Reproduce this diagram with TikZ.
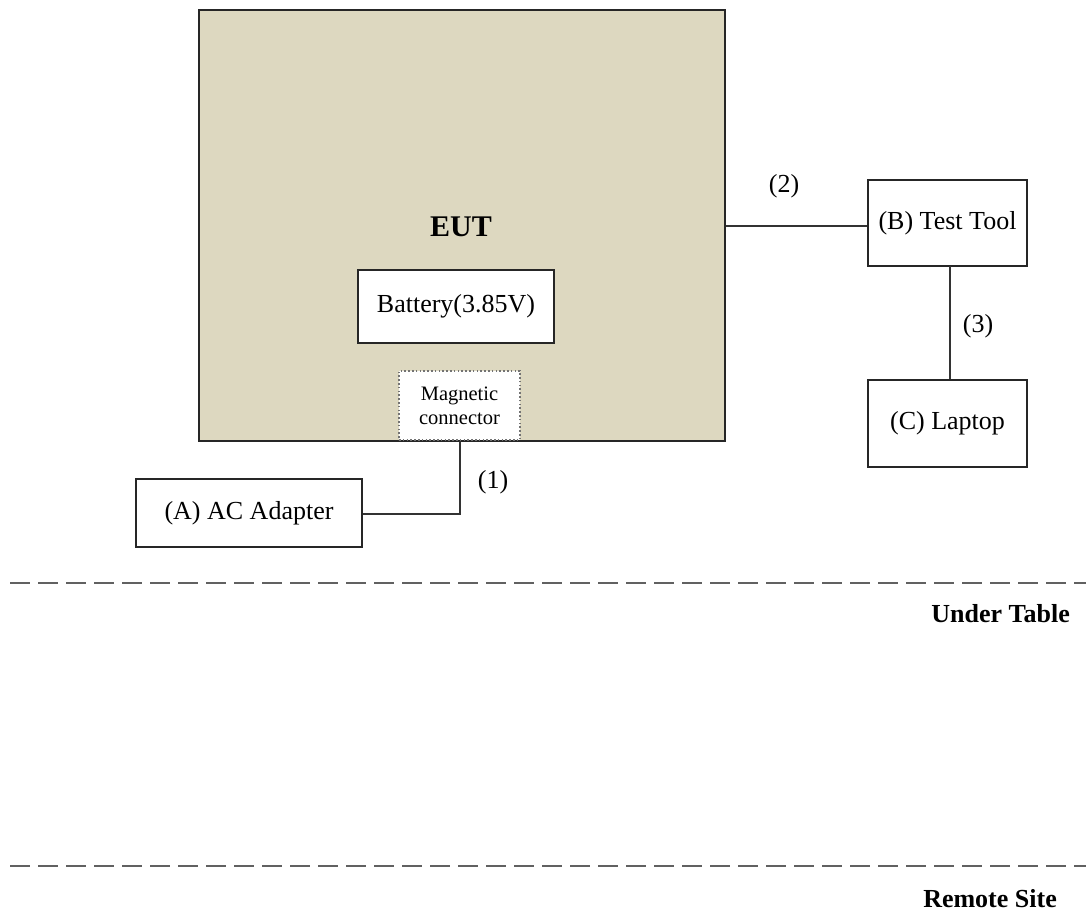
\documentclass[tikz,border=0pt]{standalone}
\usepackage{fontspec}
\setmainfont{Liberation Serif}
\begin{document}
\begin{tikzpicture}[x=1pt,y=-1pt,
  box/.style={draw=black!85,line width=1.4pt,fill=white,inner sep=0pt,
    font=\fontsize{26}{30}\selectfont},
  wire/.style={draw=black!80,line width=1.4pt},
  lbl/.style={font=\fontsize{26}{30}\selectfont,inner sep=0pt},
  zone/.style={draw=black!62,line width=2.6pt,dash pattern=on 20pt off 8pt},
  zonelbl/.style={font=\bfseries\fontsize{26}{30}\selectfont,inner sep=0pt}]
\useasboundingbox (0,0) rectangle (1091,915);

% equipment under test
\node[draw=black!85,line width=1.4pt,fill={rgb,255:red,221;green,216;blue,192},
  minimum width=526pt,minimum height=431pt,inner sep=0pt] (eut) at (462,225.5) {};
\node[font=\bfseries\fontsize{30}{34}\selectfont,inner sep=0pt] (eutlbl) at (461,227) {EUT};
\node[box,minimum width=196pt,minimum height=73pt] (bat) at (456,306.5) {Battery(3.85V)};
\node[draw=black!55,line width=1.6pt,dash pattern=on 1.6pt off 2.2pt,fill=white,
  minimum width=121pt,minimum height=69pt,
  inner sep=0pt,align=center,font=\fontsize{20.5}{24}\selectfont] (mag) at (459.5,405.5)
  {Magnetic\\connector};

% support equipment
\node[box,minimum width=226pt,minimum height=68pt] (ac) at (249,513) {(A) AC Adapter};
\node[box,minimum width=159pt,minimum height=86pt] (tool) at (947.5,223) {(B) Test Tool};
\node[box,minimum width=159pt,minimum height=87pt] (lap) at (947.5,423.5) {(C) Laptop};

% cables
\coordinate (magout) at (460,441);
\coordinate (bend) at (460,514);
\draw[wire] (magout) -- (bend) -- (ac.east |- bend);
\node[lbl] (c1) at (493,482) {(1)};
\draw[wire] (eut.east |- 0,226) -- (tool.west |- 0,226);
\node[lbl] (c2) at (784,186) {(2)};
\draw[wire] (950,266) coordinate (tb) -- (lap.north -| tb);
\node[lbl] (c3) at (978,326) {(3)};

% zones
\coordinate (z1a) at (10,583); \coordinate (z1b) at (1086,583);
\coordinate (z2a) at (10,866); \coordinate (z2b) at (1086,866);
\draw[zone] (z1a) -- (z1b);
\draw[zone] (z2a) -- (z2b);
\node[zonelbl,anchor=east] (ut) at (1070,614) {Under Table};
\node[zonelbl,anchor=east] (rs) at (1057,899) {Remote Site};
\end{tikzpicture}
\end{document}
